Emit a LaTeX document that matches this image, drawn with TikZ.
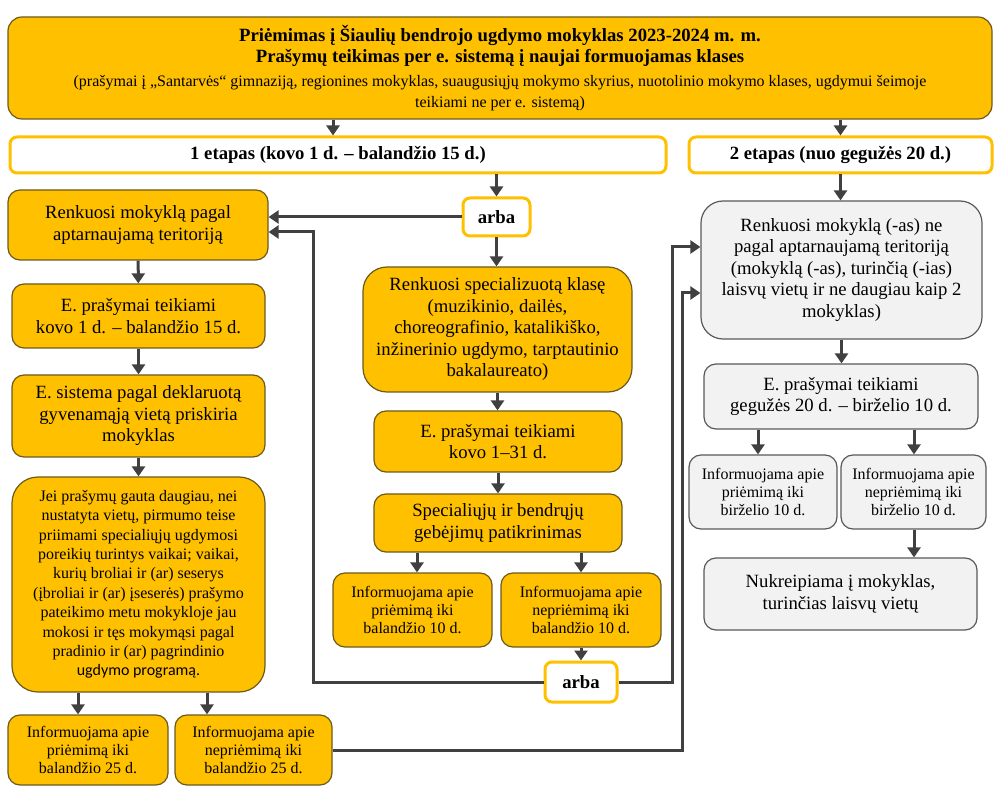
\documentclass[tikz,border=0pt]{standalone}
\usepackage{fontspec}
\setmainfont{Liberation Serif}
\newfontfamily\calibrifont{Carlito}
\usetikzlibrary{arrows.meta}
\definecolor{ygold}{HTML}{FFC000}
\definecolor{yedge}{HTML}{6B5A1E}
\definecolor{gfill}{HTML}{F2F2F2}
\definecolor{gedge}{HTML}{595959}
\definecolor{linkcol}{HTML}{404040}
\tikzset{
    ybox/.style={draw=yedge,fill=ygold,line width=1.2pt,rounded corners=12pt,align=center,inner sep=0pt,font=\fontsize{18.7}{21.5}\selectfont},
    gbox/.style={ybox,draw=gedge,fill=gfill},
    stagebox/.style={draw=ygold,fill=white,line width=3pt,rounded corners=7pt,align=center,inner sep=0pt,font=\bfseries\fontsize{18.7}{21.5}\selectfont},
    orbox/.style={stagebox},
    smalltext/.style={font=\fontsize{16}{18.4}\selectfont},
    link/.style={draw=linkcol,line width=3pt,-{Triangle[width=13pt,length=10pt]}}
}
\newcommand{\notetext}{\mdseries\fontsize{16}{18}\selectfont}

\begin{document}
\begin{tikzpicture}[x=1pt,y=-1pt]
\useasboundingbox (0,0) rectangle (1002,799);
% heading
\node[ybox,rounded corners=14pt,minimum width=984pt,minimum height=102pt] (top) at (500,68)
  {\bfseries Priėmimas į Šiaulių bendrojo ugdymo mokyklas 2023-2024 m. m.\\
   \bfseries Prašymų teikimas per e. sistemą į naujai formuojamas klases\\[2pt]
   \notetext (prašymai į „Santarvės“ gimnaziją, regionines mokyklas, suaugusiųjų mokymo skyrius, nuotolinio mokymo klases, ugdymui šeimoje\\
   \notetext teikiami ne per e. sistemą)};
\node[stagebox,minimum width=656pt,minimum height=36pt] (st1) at (338,155) {1 etapas (kovo 1 d. – balandžio 15 d.)};
\node[stagebox,minimum width=303pt,minimum height=36pt] (st2) at (840.5,155) {2 etapas (nuo gegužės 20 d.)};
% 1 etapas, left
\node[ybox,minimum width=260pt,minimum height=70pt] (L1) at (138,225) {Renkuosi mokyklą pagal\\aptarnaujamą teritoriją};
\node[ybox,minimum width=253pt,minimum height=64pt] (L2) at (138.5,316) {E. prašymai teikiami\\kovo 1 d. – balandžio 15 d.};
\node[ybox,minimum width=253pt,minimum height=82pt] (L3) at (138.5,416) {E. sistema pagal deklaruotą\\gyvenamąją vietą priskiria\\mokyklas};
\node[ybox,rounded corners=26pt,minimum width=253pt,minimum height=215pt,font=\fontsize{16}{19.4}\selectfont] (L4) at (138.5,584.5)
  {Jei prašymų gauta daugiau, nei\\nustatyta vietų, pirmumo teise\\priimami specialiųjų ugdymosi\\poreikių turintys vaikai; vaikai,\\kurių broliai ir (ar) seserys\\(įbroliai ir (ar) įseserės) prašymo\\pateikimo metu mokykloje jau\\mokosi ir tęs mokymąsi pagal\\pradinio ir (ar) pagrindinio\\{\calibrifont ugdymo programą.}};
\node[ybox,smalltext,minimum width=160pt,minimum height=70pt] (L5) at (88,750) {Informuojama apie\\priėmimą iki\\balandžio 25 d.};
\node[ybox,smalltext,minimum width=157pt,minimum height=70pt] (L6) at (253.5,750) {Informuojama apie\\nepriėmimą iki\\balandžio 25 d.};
% 1 etapas, middle
\node[orbox,minimum width=67pt,minimum height=38pt] (arbaA) at (496.5,217) {arba};
\node[ybox,rounded corners=24pt,minimum width=269pt,minimum height=125pt] (M1) at (497.5,329.5)
  {Renkuosi specializuotą klasę\\(muzikinio, dailės,\\choreografinio, katalikiško,\\inžinerinio ugdymo, tarptautinio\\bakalaureato)};
\node[ybox,minimum width=248pt,minimum height=61pt] (M2) at (498,441.5) {E. prašymai teikiami\\kovo 1–31 d.};
\node[ybox,minimum width=248pt,minimum height=58pt] (M3) at (498,523) {Specialiųjų ir bendrųjų\\gebėjimų patikrinimas};
\node[ybox,smalltext,minimum width=159pt,minimum height=74pt] (M4) at (412.5,610) {Informuojama apie\\priėmimą iki\\balandžio 10 d.};
\node[ybox,smalltext,minimum width=160pt,minimum height=74pt] (M5) at (581,610) {Informuojama apie\\nepriėmimą iki\\balandžio 10 d.};
\node[orbox,minimum width=72pt,minimum height=40pt] (arbaB) at (581,682) {arba};
% 2 etapas
\node[gbox,rounded corners=22pt,minimum width=281pt,minimum height=138pt] (R1) at (841.5,270)
  {Renkuosi mokyklą (-as) ne\\pagal aptarnaujamą teritoriją\\(mokyklą (-as), turinčią (-ias)\\laisvų vietų ir ne daugiau kaip 2\\mokyklas)};
\node[gbox,minimum width=274pt,minimum height=65pt] (R2) at (841,396.5) {E. prašymai teikiami\\gegužės 20 d. – birželio 10 d.};
\node[gbox,smalltext,minimum width=148pt,minimum height=74pt] (R3) at (763,492) {Informuojama apie\\priėmimą iki\\birželio 10 d.};
\node[gbox,smalltext,minimum width=145pt,minimum height=74pt] (R4) at (913.5,492) {Informuojama apie\\nepriėmimą iki\\birželio 10 d.};
\node[gbox,minimum width=273pt,minimum height=72pt] (R5) at (840.5,594) {Nukreipiama į mokyklas,\\turinčias laisvų vietų};
% connectors
\draw[link] (333,0 |- top.south) -- (333,0 |- st1.north);
\draw[link] (st2.north |- top.south) -- (st2.north);
\draw[link] (arbaA.north |- st1.south) -- (arbaA.north);
\draw[link] (arbaA.west) -- (arbaA.west -| L1.east);
\draw[link] (arbaA.south) -- (arbaA.south |- M1.north);
\draw[link] (L1) -- (L2);
\draw[link] (L2) -- (L3);
\draw[link] (L3) -- (L4);
\draw[link] (78,0 |- L4.south) -- (78,0 |- L5.north);
\draw[link] (207,0 |- L4.south) -- (207,0 |- L6.north);
\draw[link] (M1.south) -- (M1.south |- M2.north);
\draw[link] (M2) -- (M3);
\draw[link] (417,0 |- M3.south) -- (417,0 |- M4.north);
\draw[link] (581,0 |- M3.south) -- (581,0 |- M5.north);
\draw[link] (M5) -- (arbaB);
\draw[link] (arbaB.west) -| (313,232) -- (L1.east |- 0,232);
\draw[link] (arbaB.east) -| (672,247) -- (R1.west |- 0,247);
\draw[link] (L6.east) -| (682,293) -- (R1.west |- 0,293);
\draw[link] (st2.south) -- (st2.south |- R1.north);
\draw[link] (R1.south) -- (R1.south |- R2.north);
\draw[link] (758,0 |- R2.south) -- (758,0 |- R3.north);
\draw[link] (914,0 |- R2.south) -- (914,0 |- R4.north);
\draw[link] (914,0 |- R4.south) -- (914,0 |- R5.north);
\end{tikzpicture}
\end{document}
